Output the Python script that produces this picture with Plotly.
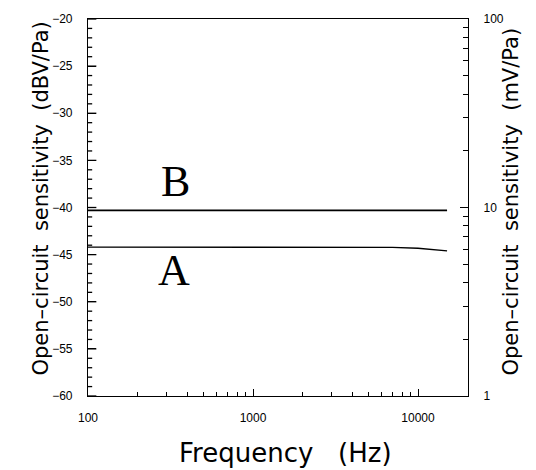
import plotly.graph_objects as go

freq_hz = [100, 200, 500, 1000, 2000, 5000, 7000, 10000, 12000, 15000]
sens_A = [-44.2, -44.2, -44.2, -44.2, -44.2, -44.2, -44.23, -44.32, -44.42, -44.6]
sens_B = [-40.3, -40.3, -40.3, -40.3, -40.3, -40.3, -40.3, -40.3, -40.3, -40.3]
left_ticks = [-60, -55, -50, -45, -40, -35, -30, -25, -20]
left_minor = [v for v in range(-60, -19) if v % 5 != 0]
right_ticks = [1, 10, 100]
right_minor = [2, 3, 4, 5, 6, 7, 8, 9, 20, 30, 40, 50, 60, 70, 80, 90]
x_ticks = [100, 1000, 10000]
x_minor = [200, 300, 400, 500, 600, 700, 800, 900, 2000, 3000, 4000, 5000, 6000, 7000, 8000, 9000, 20000]

fig = go.Figure()
fig.add_trace(go.Scatter(x=[100], y=[10], yaxis="y", mode="markers", marker=dict(opacity=0), showlegend=False, hoverinfo="skip"))
fig.add_trace(go.Scatter(x=freq_hz, y=sens_B, yaxis="y2", mode="lines", line=dict(color="black", width=1.6), showlegend=False))
fig.add_trace(go.Scatter(x=freq_hz, y=sens_A, yaxis="y2", mode="lines", line=dict(color="black", width=1.4), showlegend=False))

tickfont = dict(family="Liberation Sans, Arial", size=12, color="black")

# inward tick marks on the left (dBV/Pa) axis, placed through the y2 scale
tick_shapes = []
for v in left_ticks:
    tick_shapes.append(dict(type="line", xref="x domain", x0=0, x1=0.022, layer="above",
                            yref="y2", y0=v, y1=v, line=dict(color="black", width=1.3)))
for v in left_minor:
    tick_shapes.append(dict(type="line", xref="x domain", x0=0, x1=0.011, layer="above",
                            yref="y2", y0=v, y1=v, line=dict(color="black", width=1.3)))

fig.update_layout(
    width=536, height=470,
    margin=dict(l=88, r=68, t=16, b=74),
    paper_bgcolor="white", plot_bgcolor="white",
    shapes=tick_shapes,
    xaxis=dict(type="log", range=[2, 4.303], tickmode="array", tickvals=x_ticks, ticktext=[str(v) for v in x_ticks],
               ticks="inside", ticklen=7, tickwidth=1, tickcolor="black", showline=True, linecolor="black", linewidth=1.2,
               mirror=True, showgrid=False, zeroline=False, tickfont=tickfont, ticklabelstandoff=10,
               minor=dict(tickmode="array", tickvals=x_minor, ticks="inside", ticklen=4, tickwidth=1, tickcolor="black", showgrid=False)),
    yaxis2=dict(range=[-60, -20], overlaying="y", side="left", tickmode="array", tickvals=left_ticks,
                ticktext=[f"\u2212{abs(v)}" for v in left_ticks],
                ticks="inside", ticklen=8, tickwidth=1.2, tickcolor="black",
                showline=True, linecolor="black", linewidth=1.2, showgrid=False, zeroline=False,
                tickfont=tickfont, ticklabelstandoff=12),
    yaxis=dict(type="log", range=[0, 2], side="right", tickmode="array", tickvals=right_ticks,
               ticktext=[str(v) for v in right_ticks], ticks="inside", ticklen=8, tickwidth=1.2, tickcolor="black",
               showline=True, linecolor="black", linewidth=1.2, showgrid=False, zeroline=False,
               tickfont=tickfont, ticklabelstandoff=12,
               minor=dict(tickmode="array", tickvals=right_minor, ticks="inside", ticklen=5, tickwidth=1.2, tickcolor="black", showgrid=False)),
    annotations=[
        dict(text="B", x=2.53, y=-37.2, xref="x", yref="y2", showarrow=False,
             font=dict(family="Liberation Serif, Times New Roman", size=44, color="black")),
        dict(text="A", x=2.52, y=-46.7, xref="x", yref="y2", showarrow=False,
             font=dict(family="Liberation Serif, Times New Roman", size=44, color="black")),
        dict(text="Frequency   (Hz)", x=0.5, xshift=7, y=-0.15, xref="paper", yref="paper", showarrow=False,
             yanchor="middle", font=dict(family="DejaVu Sans", size=26, color="black")),
        dict(text="Open\u2013circuit  sensitivity  (dBV/Pa)", x=0, xshift=-62, y=0.5, yshift=9, xref="paper", yref="paper",
             showarrow=False, textangle=-90, font=dict(family="DejaVu Sans", size=21, color="black")),
        dict(text="Open\u2013circuit  sensitivity  (mV/Pa)", x=1, xshift=56, y=0.5, yshift=6, xref="paper", yref="paper",
             showarrow=False, textangle=-90, font=dict(family="DejaVu Sans", size=21, color="black")),
    ],
)

fig.write_html("out.html")
